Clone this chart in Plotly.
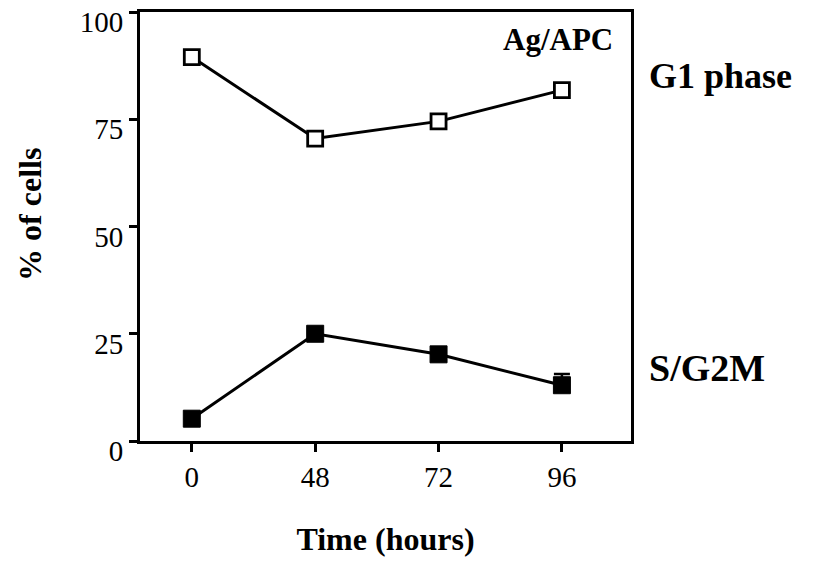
import plotly.graph_objects as go

times = ["0", "48", "72", "96"]
g1_phase = [89.5, 70.5, 74.5, 81.8]
s_g2m = [5.2, 25.0, 20.2, 13.0]
s_g2m_err_plus = [0, 0, 0, 2.6]
s_g2m_err_minus = [0, 0, 0, 0]
y_ticks = [0, 25, 50, 75, 100]

SERIF = "Liberation Serif, Times New Roman, serif"

fig = go.Figure()
fig.add_trace(go.Scatter(
    x=times, y=g1_phase, mode="lines+markers",
    line=dict(color="black", width=3),
    marker=dict(symbol="square", size=15, color="white", line=dict(color="black", width=2.8)),
    showlegend=False,
))
fig.add_trace(go.Scatter(
    x=times, y=s_g2m, mode="lines+markers",
    line=dict(color="black", width=3),
    marker=dict(symbol="square", size=17, color="black", line=dict(color="black", width=1)),
    error_y=dict(type="data", symmetric=False, array=s_g2m_err_plus, arrayminus=s_g2m_err_minus,
                 visible=True, color="black", thickness=2.5, width=8),
    showlegend=False,
))

fig.update_layout(
    width=825, height=563,
    margin=dict(l=140, r=194, t=12, b=122, autoexpand=False),
    paper_bgcolor="white", plot_bgcolor="white",
    font=dict(family=SERIF, color="black", size=29),
    xaxis=dict(
        type="category", range=[-0.42, 3.56], automargin=False,
        showline=True, linecolor="black", linewidth=3, mirror=True,
        ticks="outside", ticklen=8, tickwidth=2.5, tickcolor="black",
        showgrid=False, zeroline=False,
        tickfont=dict(size=29, family=SERIF),
        title=dict(text="<b>Time (hours)</b>", font=dict(size=32, family=SERIF), standoff=36),
    ),
    yaxis=dict(
        range=[0, 100], tickvals=y_ticks, automargin=False,
        showline=True, linecolor="black", linewidth=3, mirror=True,
        ticks="outside", ticklen=8, tickwidth=2.5, tickcolor="black",
        showgrid=False, zeroline=False, ticklabeloverflow="allow",
        ticklabelshift=10,
        tickfont=dict(size=29, family=SERIF),
    ),
    annotations=[
        dict(text="<b>% of cells</b>", xref="paper", yref="paper", x=-0.224, y=0.527,
             xanchor="center", yanchor="middle", textangle=-90, showarrow=False,
             font=dict(size=32, family=SERIF)),
        dict(text="<b>Ag/APC</b>", xref="paper", yref="paper", x=0.968, y=0.937,
             xanchor="right", yanchor="middle", showarrow=False,
             font=dict(size=31, family=SERIF)),
        dict(text="<b>G1 phase</b>", xref="paper", yref="paper", x=1.032, y=0.851,
             xanchor="left", yanchor="middle", showarrow=False,
             font=dict(size=36, family=SERIF)),
        dict(text="<b>S/G2M</b>", xref="paper", yref="paper", x=1.032, y=0.17,
             xanchor="left", yanchor="middle", showarrow=False,
             font=dict(size=38, family=SERIF)),
    ],
)

fig.write_html("out.html")
